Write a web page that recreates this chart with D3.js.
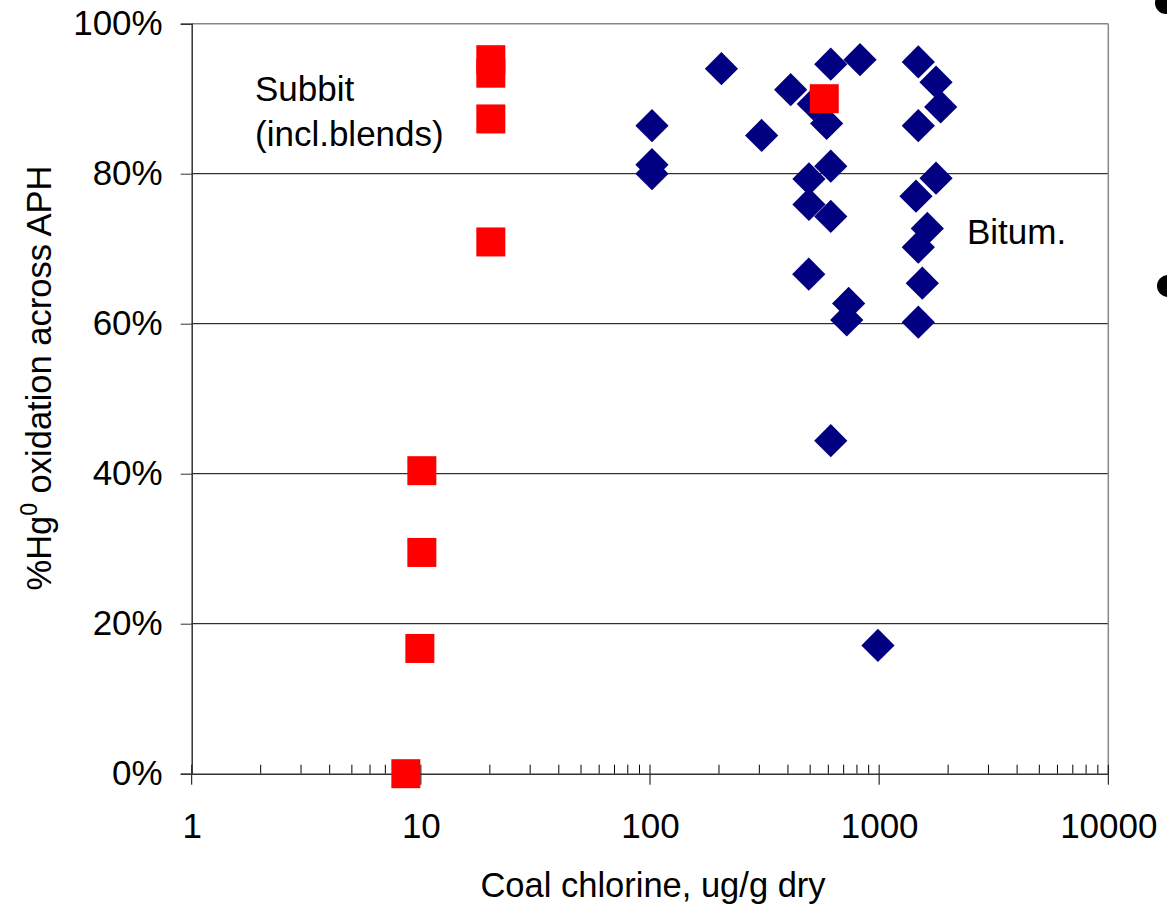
<!DOCTYPE html>
<html>
<head>
<meta charset="utf-8">
<script src="https://cdn.jsdelivr.net/npm/d3@7"></script>
<style>
  body { margin: 0; background: #fff; }
  text { font-family: "Liberation Sans", Arial, sans-serif; fill: #000; }
</style>
</head>
<body>
<div id="chart"></div>
<script>
// Subbituminous (incl. blends) - red squares
const subbitCl = [8.6, 9.9, 10.1, 10.1, 20.2, 20.2, 20.2, 20.2, 576];
const subbitOx = [0, 16.7, 29.5, 40.4, 70.9, 87.3, 93.4, 95.2, 90.0];

// Bituminous - navy diamonds
const bitumCl = [205, 102, 102, 102, 307, 411, 615, 825, 516, 590, 615, 494, 494, 615,
                 493, 736, 722, 615, 988, 1482, 1771, 1856, 1482, 1771, 1448, 1623, 1482, 1543, 1482];
const bitumOx = [94.0, 86.4, 81.2, 80.0, 85.1, 91.2, 94.6, 95.2, 89.3, 86.7, 81.0, 79.3, 75.9, 74.3,
                 66.6, 62.7, 60.5, 44.4, 17.1, 94.9, 92.2, 88.9, 86.4, 79.4, 77.0, 72.7, 70.2, 65.4, 60.2];

const xMajor = [1, 10, 100, 1000, 10000];
const yTicks = [0, 20, 40, 60, 80, 100];
const gridLines = [20, 40, 60, 80];

const width = 1167, height = 905;
const margin = { left: 191.7, right: 1167 - 1108.3, top: 23.7, bottom: 905 - 773.7 };

const svg = d3.select("#chart").append("svg")
    .attr("width", width)
    .attr("height", height);

const x = d3.scaleLog()
    .domain([1, 10000])
    .range([margin.left, width - margin.right]);

const y = d3.scaleLinear()
    .domain([0, 100])
    .range([height - margin.bottom, margin.top]);

// Gridlines
svg.append("g").selectAll("line")
    .data(gridLines)
    .enter().append("line")
    .attr("x1", x(1)).attr("x2", x(10000))
    .attr("y1", d => y(d)).attr("y2", d => y(d))
    .attr("stroke", "#000").attr("stroke-width", 1);

// Plot frame top and right
svg.append("line")
    .attr("x1", x(1)).attr("x2", x(10000))
    .attr("y1", y(100)).attr("y2", y(100))
    .attr("stroke", "#888").attr("stroke-width", 1.5);
svg.append("line")
    .attr("x1", x(10000)).attr("x2", x(10000))
    .attr("y1", y(100)).attr("y2", y(0))
    .attr("stroke", "#888").attr("stroke-width", 1.5);

// Minor x ticks (inside, above axis)
const minorTicks = [];
for (let dec = 1; dec < 10000; dec *= 10) {
    for (let m = 2; m <= 9; m++) minorTicks.push(dec * m);
}
svg.append("g").selectAll("line")
    .data(minorTicks)
    .enter().append("line")
    .attr("x1", d => x(d)).attr("x2", d => x(d))
    .attr("y1", y(0)).attr("y2", y(0) - 9)
    .attr("stroke", "#000").attr("stroke-width", 1);

// Major x ticks cross the axis
svg.append("g").selectAll("line")
    .data(xMajor)
    .enter().append("line")
    .attr("x1", d => x(d)).attr("x2", d => x(d))
    .attr("y1", y(0) - 9).attr("y2", y(0) + 11)
    .attr("stroke", "#000").attr("stroke-width", 1);

// X axis
const xAxis = svg.append("g")
    .attr("transform", `translate(0,${y(0)})`)
    .call(d3.axisBottom(x).tickValues(xMajor).tickFormat(d3.format("d")).tickSize(0));
xAxis.select(".domain").attr("stroke", "#333").attr("stroke-width", 1.5);
xAxis.selectAll("text").style("font-size", "35px").attr("y", 64).attr("dy", 0);

// Y axis
const yAxis = svg.append("g")
    .attr("transform", `translate(${x(1)},0)`)
    .call(d3.axisLeft(y).tickValues(yTicks).tickFormat(d => d + "%").tickSize(11).tickPadding(18));
yAxis.select(".domain").attr("stroke", "#333").attr("stroke-width", 1.5);
yAxis.selectAll(".tick line").attr("stroke", "#333");
yAxis.selectAll("text").style("font-size", "35px");

// Bituminous diamonds
const diamond = d3.symbol().type(d3.symbolSquare).size(23.5 * 23.5);
svg.append("g").selectAll("path")
    .data(bitumCl.map((c, i) => [c, bitumOx[i]]))
    .enter().append("path")
    .attr("d", diamond)
    .attr("transform", d => `translate(${x(d[0])},${y(d[1])}) rotate(45)`)
    .attr("fill", "#000080");

// Subbituminous squares
const sq = 29;
svg.append("g").selectAll("rect")
    .data(subbitCl.map((c, i) => [c, subbitOx[i]]))
    .enter().append("rect")
    .attr("x", d => x(d[0]) - sq / 2)
    .attr("y", d => y(d[1]) - sq / 2)
    .attr("width", sq).attr("height", sq)
    .attr("fill", "#ff0000");

// Annotations
svg.append("text").attr("x", 255).attr("y", 101).style("font-size", "35px").text("Subbit");
svg.append("text").attr("x", 255).attr("y", 146).style("font-size", "35px").text("(incl.blends)");
svg.append("text").attr("x", 967).attr("y", 244).style("font-size", "35px").text("Bitum.");

// Axis titles
svg.append("text")
    .attr("x", (x(1) + x(10000)) / 2 + 3).attr("y", 897)
    .attr("text-anchor", "middle")
    .style("font-size", "34.5px")
    .text("Coal chlorine, ug/g dry");

const yt = svg.append("text")
    .attr("transform", "translate(51,378) rotate(-90)")
    .attr("text-anchor", "middle")
    .style("font-size", "34.5px");
yt.append("tspan").text("%Hg");
yt.append("tspan").attr("dy", -14).style("font-size", "23px").text("0");
yt.append("tspan").attr("dy", 14).text(" oxidation across APH");

// Bullet marks from the slide edge
svg.append("circle").attr("cx", 1166).attr("cy", 3).attr("r", 11).attr("fill", "#000");
svg.append("circle").attr("cx", 1168).attr("cy", 286).attr("r", 11).attr("fill", "#000");
</script>
</body>
</html>
